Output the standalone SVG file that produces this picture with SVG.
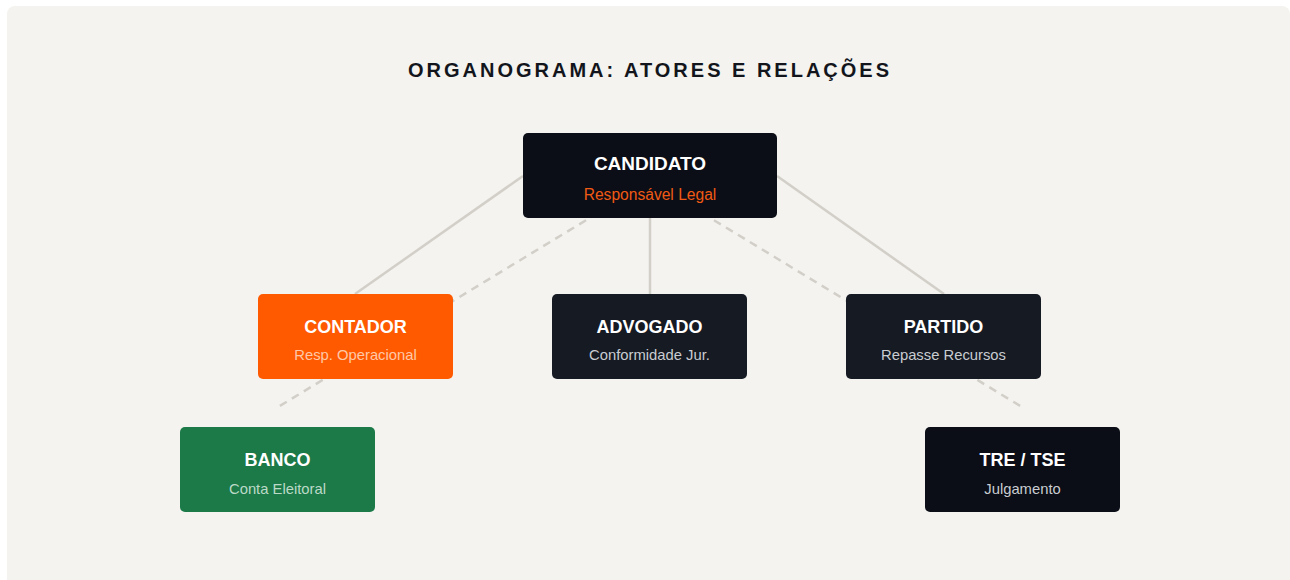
<svg xmlns="http://www.w3.org/2000/svg" width="1290" height="580" viewBox="0 0 1290 580">
<style>
.panel{fill:#f4f3ef}
.title{font-family:"Liberation Sans",Arial,sans-serif;font-weight:bold;font-size:20px;letter-spacing:3px;fill:#13151c;text-anchor:middle}
.nt{font-family:"Liberation Sans",Arial,sans-serif;font-weight:bold;font-size:18px;fill:#ffffff;text-anchor:middle}
.ns{font-family:"Liberation Sans",Arial,sans-serif;font-size:14.8px;text-anchor:middle}
.big{font-size:19px}
.bigs{font-size:15.6px}
.solid{stroke:#d2cfc8;stroke-width:2.5;fill:none}
.dash{stroke:#d2cfc8;stroke-width:2.5;fill:none;stroke-dasharray:8 6}
</style>
<rect x="0" y="0" width="1290" height="580" fill="#ffffff"/>
<rect class="panel" x="7" y="6" width="1283" height="590" rx="8"/>
<text class="title" x="650" y="77">ORGANOGRAMA: ATORES E RELAÇÕES</text>
<g id="connectors">
<line class="solid" x1="523" y1="176" x2="355" y2="294"/>
<line class="solid" x1="777" y1="176" x2="944" y2="294"/>
<line class="solid" x1="650" y1="218" x2="650" y2="294"/>
<line class="dash" x1="598" y1="213" x2="278" y2="407"/>
<line class="dash" x1="702" y1="213" x2="1022" y2="407"/>
</g>
<g id="candidato">
<rect x="523" y="133" width="254" height="85" rx="5" fill="#0b0e16"/>
<text class="nt big" x="650" y="170">CANDIDATO</text>
<text class="ns bigs" x="650" y="200" fill="#f05a14">Responsável Legal</text>
</g>
<g id="contador">
<rect x="258" y="294" width="195" height="85" rx="5" fill="#ff5a00"/>
<text class="nt" x="355.5" y="333">CONTADOR</text>
<text class="ns" x="355.5" y="360" fill="#ffc8a8">Resp. Operacional</text>
</g>
<g id="advogado">
<rect x="552" y="294" width="195" height="85" rx="5" fill="#151a23"/>
<text class="nt" x="649.5" y="333">ADVOGADO</text>
<text class="ns" x="649.5" y="360" fill="#c9ccd1">Conformidade Jur.</text>
</g>
<g id="partido">
<rect x="846" y="294" width="195" height="85" rx="5" fill="#151a23"/>
<text class="nt" x="943.5" y="333">PARTIDO</text>
<text class="ns" x="943.5" y="360" fill="#c9ccd1">Repasse Recursos</text>
</g>
<g id="banco">
<rect x="180" y="427" width="195" height="85" rx="5" fill="#1b7a47"/>
<text class="nt" x="277.5" y="466">BANCO</text>
<text class="ns" x="277.5" y="494" fill="#bcd9c7">Conta Eleitoral</text>
</g>
<g id="tre">
<rect x="925" y="427" width="195" height="85" rx="5" fill="#0b0e16"/>
<text class="nt" x="1022.5" y="466">TRE / TSE</text>
<text class="ns" x="1022.5" y="494" fill="#c9ccd1">Julgamento</text>
</g>
</svg>
